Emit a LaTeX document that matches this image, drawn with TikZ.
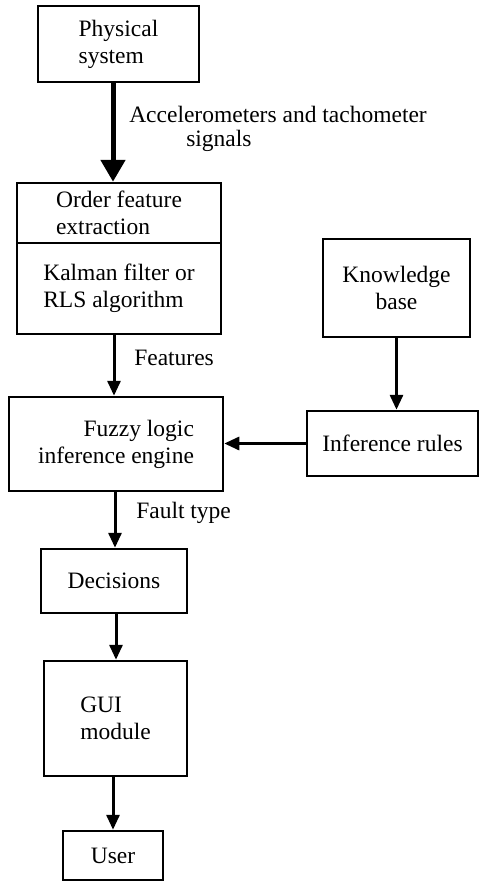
\documentclass[tikz,border=0pt]{standalone}
\usepackage{fontspec}
\setmainfont{Liberation Serif}
\usetikzlibrary{arrows.meta}
\usetikzlibrary{positioning}

\begin{document}
\begin{tikzpicture}[x=1pt, y=-1pt, every node/.style={draw, line width=2.5pt, inner sep=0pt, font=\fontsize{23.5}{27}\selectfont}, >={Triangle[length=15pt,width=13pt]}
]
 \tikzstyle{la}=[draw=none, anchor=base west];
 \tikzstyle{ar}=[->, line width=3pt];
\useasboundingbox (0,0) rectangle (479,881);
% main chain on the left
\node[minimum width=161pt, minimum height=76pt, align=left] (phys) at (118.5,44) {Physical\\system};
\node[minimum width=204pt, minimum height=60pt, align=left] (order) at (119,213) {Order feature\\extraction};
\node[minimum width=204pt, minimum height=91pt, align=left] (kalman) at (119,288.5) {Kalman filter or\\RLS algorithm};
\node[minimum width=214pt, minimum height=94pt, align=right] (fuzzy) at (116,444) {Fuzzy logic\\inference engine};
\node[minimum width=146pt, minimum height=64pt] (dec) at (114,581) {Decisions};
\node[minimum width=143pt, minimum height=115pt, align=left] (gui) at (115.5,718.5) {GUI\\module};
\node[minimum width=100pt, minimum height=49pt] (user) at (113,855.5) {User};
% rule base on the right
\node[minimum width=147pt, minimum height=98pt, align=center] (know) at (396.5,288) {Knowledge\\base};
\node[minimum width=171pt, minimum height=65pt] (rules) at (392.5,443.5) {Inference rules};
% signal labels
\node[la, anchor=north west, align=left] (acc) at (128,105) {Accelerometers and tachometer\\[-3pt]\hspace*{57pt}signals};
\node[la] (feat) at (133,365) {Features};
\node[la] (ftype) at (135,518) {Fault type};

\draw[->, line width=5pt, >={Triangle[length=22pt,width=24pt]}] ([xshift=-5.5pt]phys.south) -- ([xshift=-5.5pt]phys.south |- order.north);
\draw[ar] ([xshift=-5pt]kalman.south) -- ([xshift=-5pt]kalman.south |- fuzzy.north);
\draw[ar] ([xshift=-1pt]fuzzy.south) -- ([xshift=-1pt]fuzzy.south |- dec.north);
\draw[ar] ([xshift=2pt]dec.south) -- ([xshift=2pt]dec.south |- gui.north);
\draw[ar] ([xshift=-2.5pt]gui.south) -- ([xshift=-2.5pt]gui.south |- user.north);
\draw[ar] (know.south) -- (know.south |- rules.north);
\draw[ar] (rules.west) -- (rules.west -| fuzzy.east);

\end{tikzpicture}
\end{document}
